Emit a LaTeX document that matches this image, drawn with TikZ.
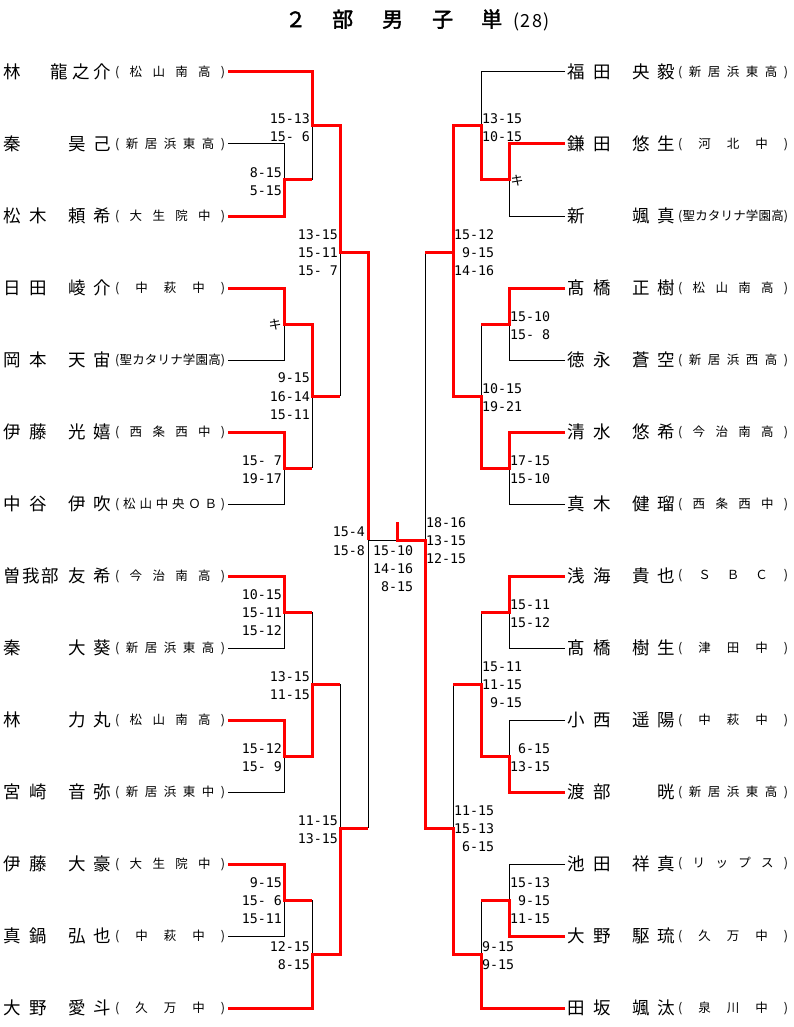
\documentclass[tikz,border=0pt]{standalone}
\usepackage{fontspec}
\setmainfont{Noto Sans CJK JP}
\newfontfamily\titlefont[FakeBold=2]{Noto Sans CJK JP}
\newfontfamily\scorefont{DejaVu Sans Mono}
\newcommand\fs{\kern8.5pt\relax}
\newcommand\ft{\kern1.5pt\relax}
\newcommand\gs{\kern7.5pt\relax}
\newcommand\gt{\kern4pt\relax}
\def\schl#1{\ifx#1\relax\else\hfil#1\expandafter\schl\fi}
\newcommand\sch[1]{\hbox to 110pt{(\schl#1\relax\hfil)}}
\newcommand\ph{\phantom{1}}
\tikzset{
  namest/.style={anchor=west, inner sep=0pt, font=\fontsize{17.5}{17.5}\selectfont},
  schst/.style={anchor=west, inner sep=0pt, font=\fontsize{12.5}{12.5}\selectfont},
  scl/.style={anchor=east, inner sep=0pt, font=\scorefont\fontsize{13.3}{13.3}\selectfont},
  scr/.style={anchor=west, inner sep=0pt, font=\scorefont\fontsize{13.3}{13.3}\selectfont},
  kist/.style={inner sep=0pt, font=\fontsize{13}{13}\selectfont},
  win/.style={draw=red, line width=3pt},
  lose/.style={draw=black, line width=1pt},
}
\newcommand\LP[5]{%
  \node[namest] (#1n) at (3.5,#2) {\hbox to 107.5pt{#3\hfil #4}};
  \node[schst] (#1s) at (115,#2) {\sch{#5}};
  \coordinate (#1) at (228,#2);}
\newcommand\RP[5]{%
  \node[namest] (#1n) at (567.5,#2) {\hbox to 107.5pt{#3\hfil #4}};
  \node[schst] (#1s) at (678,#2) {\sch{#5}};
  \coordinate (#1) at (565,#2);}
\begin{document}
\begin{tikzpicture}[x=1pt,y=-1pt]
\useasboundingbox[fill=white] (0,0) rectangle (793,1027);
% title
\node[anchor=west, inner sep=0pt] (title) at (285,20) {{\titlefont\fontsize{21}{21}\selectfont ２\kern26pt 部\kern29pt 男\kern29pt 子\kern28pt 単}{\fontsize{18}{18}\selectfont\kern11pt(\kern1.5pt 2\kern1.5pt 8\kern1.5pt)}};
% left players
\LP{L1}{72}{林}{龍\gt 之\gt 介}{松山南高}
\LP{L2}{144}{秦}{昊\gs 己}{新居浜東高}
\LP{L3}{216}{松\fs 木}{頼\gs 希}{大生院中}
\LP{L4}{288}{日\fs 田}{崚\gs 介}{中萩中}
\LP{L5}{360}{岡\fs 本}{天\gs 宙}{聖カタリナ学園高}
\LP{L6}{432}{伊\fs 藤}{光\gs 嬉}{西条西中}
\LP{L7}{504}{中\fs 谷}{伊\gs 吹}{松山中央ＯＢ}
\LP{L8}{576}{曽\ft 我\ft 部}{友\gs 希}{今治南高}
\LP{L9}{648}{秦}{大\gs 葵}{新居浜東高}
\LP{L10}{720}{林}{力\gs 丸}{松山南高}
\LP{L11}{792}{宮\fs 崎}{音\gs 弥}{新居浜東中}
\LP{L12}{864}{伊\fs 藤}{大\gs 豪}{大生院中}
\LP{L13}{936}{真\fs 鍋}{弘\gs 也}{中萩中}
\LP{L14}{1008}{大\fs 野}{愛\gs 斗}{久万中}
% right players
\RP{R1}{72}{福\fs 田}{央\gs 毅}{新居浜東高}
\RP{R2}{144}{鎌\fs 田}{悠\gs 生}{河北中}
\RP{R3}{216}{新}{颯\gs 真}{聖カタリナ学園高}
\RP{R4}{288}{髙\fs 橋}{正\gs 樹}{松山南高}
\RP{R5}{360}{徳\fs 永}{蒼\gs 空}{新居浜西高}
\RP{R6}{432}{清\fs 水}{悠\gs 希}{今治南高}
\RP{R7}{504}{真\fs 木}{健\gs 瑠}{西条西中}
\RP{R8}{576}{浅\fs 海}{貴\gs 也}{ＳＢＣ}
\RP{R9}{648}{髙\fs 橋}{樹\gs 生}{津田中}
\RP{R10}{720}{小\fs 西}{遥\gs 陽}{中萩中}
\RP{R11}{792}{渡\fs 部}{晄}{新居浜東高}
\RP{R12}{864}{池\fs 田}{祥\gs 真}{リップス}
\RP{R13}{936}{大\fs 野}{駆\gs 琉}{久万中}
\RP{R14}{1008}{田\fs 坂}{颯\gs 汰}{泉川中}
% black (losing) lines, left
\draw[lose] (L2) -| (284,180);
\draw[lose] (312,126) -- (312,180);
\draw[lose] (L5) -| (284,324);
\draw[lose] (L7) -| (284,468);
\draw[lose] (312,396) -- (312,468);
\draw[lose] (340,252) -- (340,396);
\draw[lose] (L9) -| (284,612);
\draw[lose] (L11) -| (284,756);
\draw[lose] (312,612) -- (312,684);
\draw[lose] (L13) -| (284,900);
\draw[lose] (312,900) -- (312,954);
\draw[lose] (340,684) -- (340,828);
\draw[lose] (368,540) -- (368,828);
\draw[lose] (368,540) -- (397,540);
% black lines, right
\draw[lose] (R1) -| (481,126);
\draw[lose] (R3) -| (509,180);
\draw[lose] (R5) -| (509,324);
\draw[lose] (481,324) -- (481,396);
\draw[lose] (R7) -| (509,468);
\draw[lose] (425,252) -- (425,540);
\draw[lose] (R9) -| (509,612);
\draw[lose] (R10) -| (509,756);
\draw[lose] (481,612) -- (481,684);
\draw[lose] (453,684) -- (453,828);
\draw[lose] (R12) -| (509,900);
\draw[lose] (481,900) -- (481,954);
% red (winning) lines, left
\draw[win] (L1) -- (312,72) -- (312,126) -- (340,126) -- (340,252) -- (368,252) -- (368,540);
\draw[win] (L3) -- (284,216) -- (284,180) -- (312,180);
\draw[win] (L4) -- (284,288) -- (284,324) -- (312,324) -- (312,396) -- (340,396);
\draw[win] (L6) -- (284,432) -- (284,468) -- (312,468);
\draw[win] (L8) -- (284,576) -- (284,612) -- (312,612);
\draw[win] (L10) -- (284,720) -- (284,756) -- (312,756) -- (312,684) -- (340,684);
\draw[win] (L12) -- (284,864) -- (284,900) -- (312,900);
\draw[win] (L14) -- (312,1008) -- (312,954) -- (340,954) -- (340,828) -- (368,828);
% red lines, right
\draw[win] (R2) -- (509,144) -- (509,180) -- (481,180) -- (481,126) -- (453,126) -- (453,252);
\draw[win] (R4) -- (509,288) -- (509,324) -- (481,324);
\draw[win] (R6) -- (509,432) -- (509,468) -- (481,468) -- (481,396) -- (453,396) -- (453,252) -- (425,252);
\draw[win] (R8) -- (509,576) -- (509,612) -- (481,612);
\draw[win] (R11) -- (509,792) -- (509,756) -- (481,756) -- (481,684) -- (453,684);
\draw[win] (R13) -- (509,936) -- (509,900) -- (481,900);
\draw[win] (R14) -- (481,1008) -- (481,954) -- (453,954) -- (453,828) -- (425,828) -- (425,540) -- (397,540) -- (397,522);
% scores left
\node[scl] (s1) at (282,173) {8-15};
\node[scl] (s2) at (282,191) {5-15};
\node[kist] (k1) at (275,325) {キ};
\node[scl] (s3) at (282,461) {15-\ph 7};
\node[scl] (s4) at (282,479) {19-17};
\node[scl] (s5) at (282,595) {10-15};
\node[scl] (s6) at (282,613) {15-11};
\node[scl] (s7) at (282,631) {15-12};
\node[scl] (s8) at (282,749) {15-12};
\node[scl] (s9) at (282,767) {15-\ph 9};
\node[scl] (s10) at (282,883) {9-15};
\node[scl] (s11) at (282,901) {15-\ph 6};
\node[scl] (s12) at (282,919) {15-11};
\node[scl] (s13) at (310,119) {15-13};
\node[scl] (s14) at (310,137) {15-\ph 6};
\node[scl] (s15) at (310,378) {9-15};
\node[scl] (s16) at (310,397) {16-14};
\node[scl] (s17) at (310,415) {15-11};
\node[scl] (s18) at (310,677) {13-15};
\node[scl] (s19) at (310,695) {11-15};
\node[scl] (s20) at (310,947) {12-15};
\node[scl] (s21) at (310,965) {8-15};
\node[scl] (s22) at (338,235) {13-15};
\node[scl] (s23) at (338,253) {15-11};
\node[scl] (s24) at (338,271) {15-\ph 7};
\node[scl] (s25) at (338,821) {11-15};
\node[scl] (s26) at (338,839) {13-15};
\node[scl] (s27) at (365,532) {15-4};
\node[scl] (s28) at (365,551) {15-8};
\node[scr] (s29) at (373,551) {15-10};
\node[scr] (s30) at (373,569) {14-16};
\node[scr] (s31) at (373,587) {\ph 8-15};
% scores right
\node[kist] (k2) at (517,181) {キ};
\node[scr] (r1) at (510,317) {15-10};
\node[scr] (r2) at (510,335) {15-\ph 8};
\node[scr] (r3) at (510,461) {17-15};
\node[scr] (r4) at (510,479) {15-10};
\node[scr] (r5) at (510,605) {15-11};
\node[scr] (r6) at (510,623) {15-12};
\node[scr] (r7) at (510,749) {\ph 6-15};
\node[scr] (r8) at (510,767) {13-15};
\node[scr] (r9) at (510,883) {15-13};
\node[scr] (r10) at (510,901) {\ph 9-15};
\node[scr] (r11) at (510,919) {11-15};
\node[scr] (r12) at (482,119) {13-15};
\node[scr] (r13) at (482,137) {10-15};
\node[scr] (r14) at (482,389) {10-15};
\node[scr] (r15) at (482,407) {19-21};
\node[scr] (r16) at (482,667) {15-11};
\node[scr] (r17) at (482,685) {11-15};
\node[scr] (r18) at (482,703) {\ph 9-15};
\node[scr] (r19) at (482,947) {9-15};
\node[scr] (r20) at (482,965) {9-15};
\node[scr] (r21) at (454,235) {15-12};
\node[scr] (r22) at (454,253) {\ph 9-15};
\node[scr] (r23) at (454,271) {14-16};
\node[scr] (r24) at (454,811) {11-15};
\node[scr] (r25) at (454,829) {15-13};
\node[scr] (r26) at (454,847) {\ph 6-15};
\node[scr] (r27) at (426,523) {18-16};
\node[scr] (r28) at (426,541) {13-15};
\node[scr] (r29) at (426,559) {12-15};
\end{tikzpicture}
\end{document}
